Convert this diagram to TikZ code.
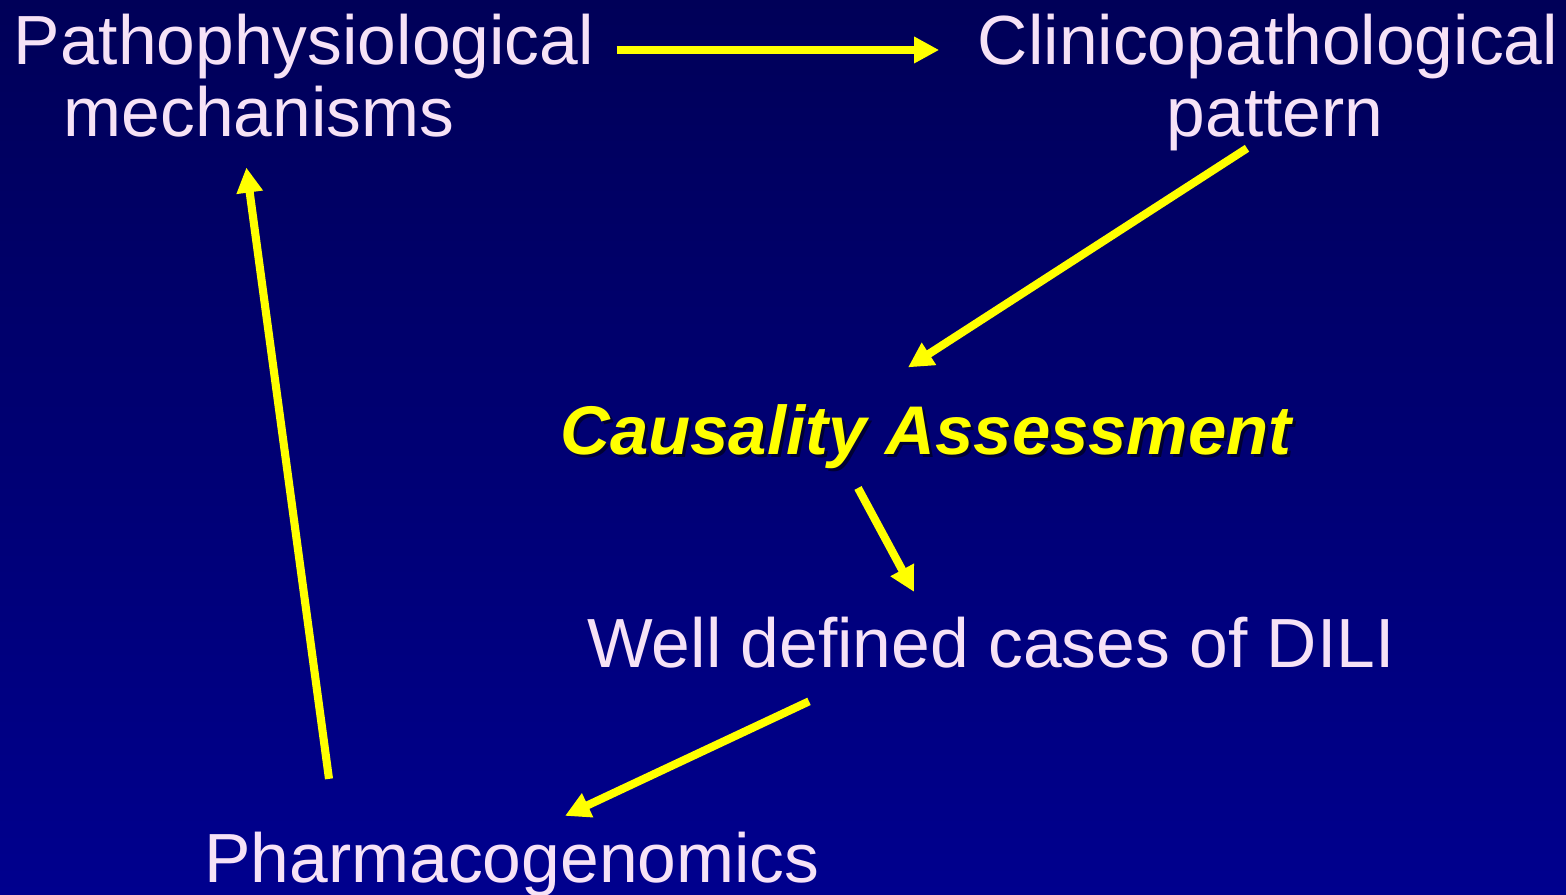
\documentclass[tikz,border=0pt]{standalone}
\usepackage{fontspec}
\setmainfont{Liberation Sans}
\usetikzlibrary{arrows.meta,calc}
\definecolor{bgtop}{RGB}{0,0,88}
\definecolor{bgbottom}{RGB}{0,0,142}
\definecolor{pale}{RGB}{246,226,246}
\definecolor{yel}{RGB}{255,255,0}
\begin{document}
\begin{tikzpicture}[x=0.1mm,y=-0.1mm]
\tikzstyle{lbl}= [inner sep=0,text=pale,font=\fontsize{19.8}{20.5}\selectfont]
\tikzstyle{key}= [inner sep=0,text=yel,font=\fontsize{19.6}{20.5}\selectfont\bfseries\itshape]
\tikzstyle{dep}= [-{Triangle[length=2.5mm,width=2.5mm]},line width=2.3pt,draw=yel]

\useasboundingbox (0,0) rectangle (1566,895);
\shade[top color=bgtop,bottom color=bgbottom] (0,0) rectangle (1566,895);

\path
	(  13, 13) node[lbl,anchor=north west,align=left] (patho) {Pathophysiological\\\hspace*{5mm}mechanisms}
	(1268, 13) node[lbl,anchor=north,align=center] (clinico) {Clinicopathological\\\hspace*{1.4mm}pattern}
	( 929,458) node[key,anchor=base,text=black!80!blue] (causalshadow) {Causality Assessment}
	( 926,455) node[key,anchor=base] (causal) {Causality Assessment}
	( 991,668) node[lbl,anchor=base] (cases) {Well defined cases of DILI}
	( 512,883) node[lbl,anchor=base] (pharma) {Pharmacogenomics}
;
\draw[dep] ($(patho.north east)+(22,37)$) -- ($(clinico.north west)+(-38,37)$);
\draw[dep] ($(clinico.south)+(-21,-3)$) -- ($(causal.north)+(-18,-37)$);
\draw[dep] ($(causal.south)+(-68,18)$) -- ($(cases.north)+(-77,-25)$);
\draw[dep] ($(cases.south)+(-182,32)$) -- ($(pharma.north)+(53,-16)$);
\draw[dep] ($(pharma.north)+(-183,-53)$) -- ($(patho.south)+(-57.5,30)$);
\end{tikzpicture}
\end{document}
